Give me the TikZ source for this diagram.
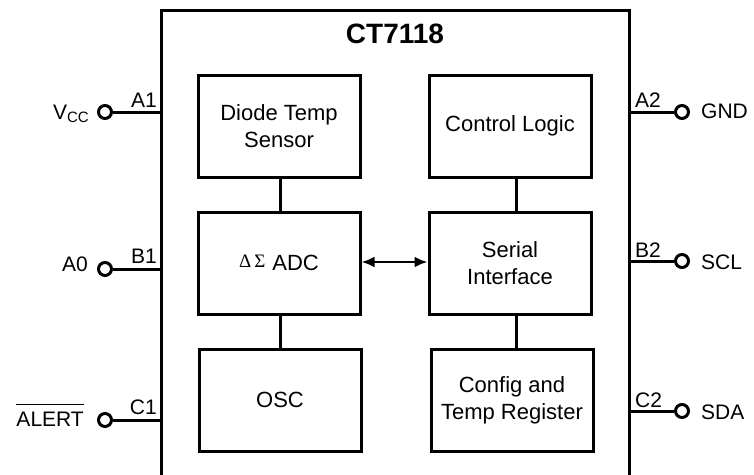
\documentclass[tikz,border=0pt]{standalone}
\usepackage{fontspec}
\setmainfont{Liberation Sans}
\newfontfamily\serifgreek{Liberation Serif}
\usetikzlibrary{arrows.meta}
\begin{document}
\begin{tikzpicture}[x=1pt,y=-1pt,
  blk/.style={draw,line width=3pt,minimum width=162pt,minimum height=102pt,inner sep=0pt,align=center,font=\fontsize{22}{27}\selectfont},
  pin/.style={draw,circle,line width=3pt,minimum size=13pt,inner sep=0pt,fill=white},
  lbl/.style={inner sep=0pt,font=\fontsize{21}{24}\selectfont},
  wire/.style={line width=3pt},
  biarrow/.style={line width=2.8pt,arrows={Latex[length=13pt,width=11pt]-Latex[length=13pt,width=11pt]}}]
\useasboundingbox (0,0) rectangle (754,474);
% chip outline
\coordinate (cbl) at (161,478);
\coordinate (ctl) at (161,10);
\coordinate (ctr) at (629,10);
\coordinate (cbr) at (629,478);
\draw[wire,line join=miter] (cbl) -- (ctl) -- (ctr) -- (cbr);
\node[font=\fontsize{28}{30}\selectfont\bfseries,anchor=base,inner sep=0pt] (title) at (395,43) {CT7118};
% blocks
\node[blk] (diode) at (279,126) {Diode Temp\\Sensor};
\node[blk] (adc) at (279,263) {{\serifgreek\fontsize{19}{19}\selectfont\raisebox{3pt}{Δ\kern3ptΣ}}\kern7pt ADC};
\node[blk] (osc) at (280,400) {OSC};
\node[blk] (ctrl) at (510,126) {Control Logic};
\node[blk] (serial) at (510,263) {Serial\\Interface};
\node[blk] (config) at (512,400) {Config and\\Temp Register};
% internal connectors
\draw[wire] ([xshift=1pt]diode.south) -- ([xshift=1pt]adc.north);
\draw[wire] ([xshift=1pt]adc.south) -- ([xshift=0pt]osc.north);
\draw[wire] ([xshift=6pt]ctrl.south) -- ([xshift=6pt]serial.north);
\draw[wire] ([xshift=6pt]serial.south) -- ([xshift=4pt]config.north);
\draw[biarrow] ([yshift=1pt]adc.east) -- ([yshift=1pt]serial.west);
% left pins
\coordinate (eA1) at (161,112);
\coordinate (eB1) at (161,269);
\coordinate (eC1) at (161,420);
\node[pin] (pA1) at (105,112) {};
\node[pin] (pB1) at (105,269) {};
\node[pin] (pC1) at (105,420) {};
\draw[wire] (pA1) -- (eA1);
\draw[wire] (pB1) -- (eB1);
\draw[wire] (pC1) -- (eC1);
\node[lbl,anchor=base east] (lA1) at (157,107) {A1};
\node[lbl,anchor=base east] (lB1) at (157,263) {B1};
\node[lbl,anchor=base east] (lC1) at (157,414) {C1};
\node[lbl,anchor=base east] (vcc) at (89,119) {V\raisebox{-3pt}{\fontsize{15}{15}\selectfont CC}};
\node[lbl,anchor=base east] (a0) at (88,271) {A0};
\node[lbl,anchor=base east] (alert) at (84,426) {ALERT};
\draw[line width=1.6pt] ([yshift=7pt]alert.north west) -- ([yshift=7pt]alert.north east);
% right pins
\coordinate (eA2) at (629,112);
\coordinate (eB2) at (629,261);
\coordinate (eC2) at (629,411);
\node[pin] (pA2) at (682,112) {};
\node[pin] (pB2) at (682,261) {};
\node[pin] (pC2) at (682,411) {};
\draw[wire] (eA2) -- (pA2);
\draw[wire] (eB2) -- (pB2);
\draw[wire] (eC2) -- (pC2);
\node[lbl,anchor=base west] (lA2) at (635,107) {A2};
\node[lbl,anchor=base west] (lB2) at (635,257) {B2};
\node[lbl,anchor=base west] (lC2) at (635,407) {C2};
\node[lbl,anchor=base west] (gnd) at (701,118) {GND};
\node[lbl,anchor=base west] (scl) at (701,269) {SCL};
\node[lbl,anchor=base west] (sda) at (701,419) {SDA};
\end{tikzpicture}
\end{document}
